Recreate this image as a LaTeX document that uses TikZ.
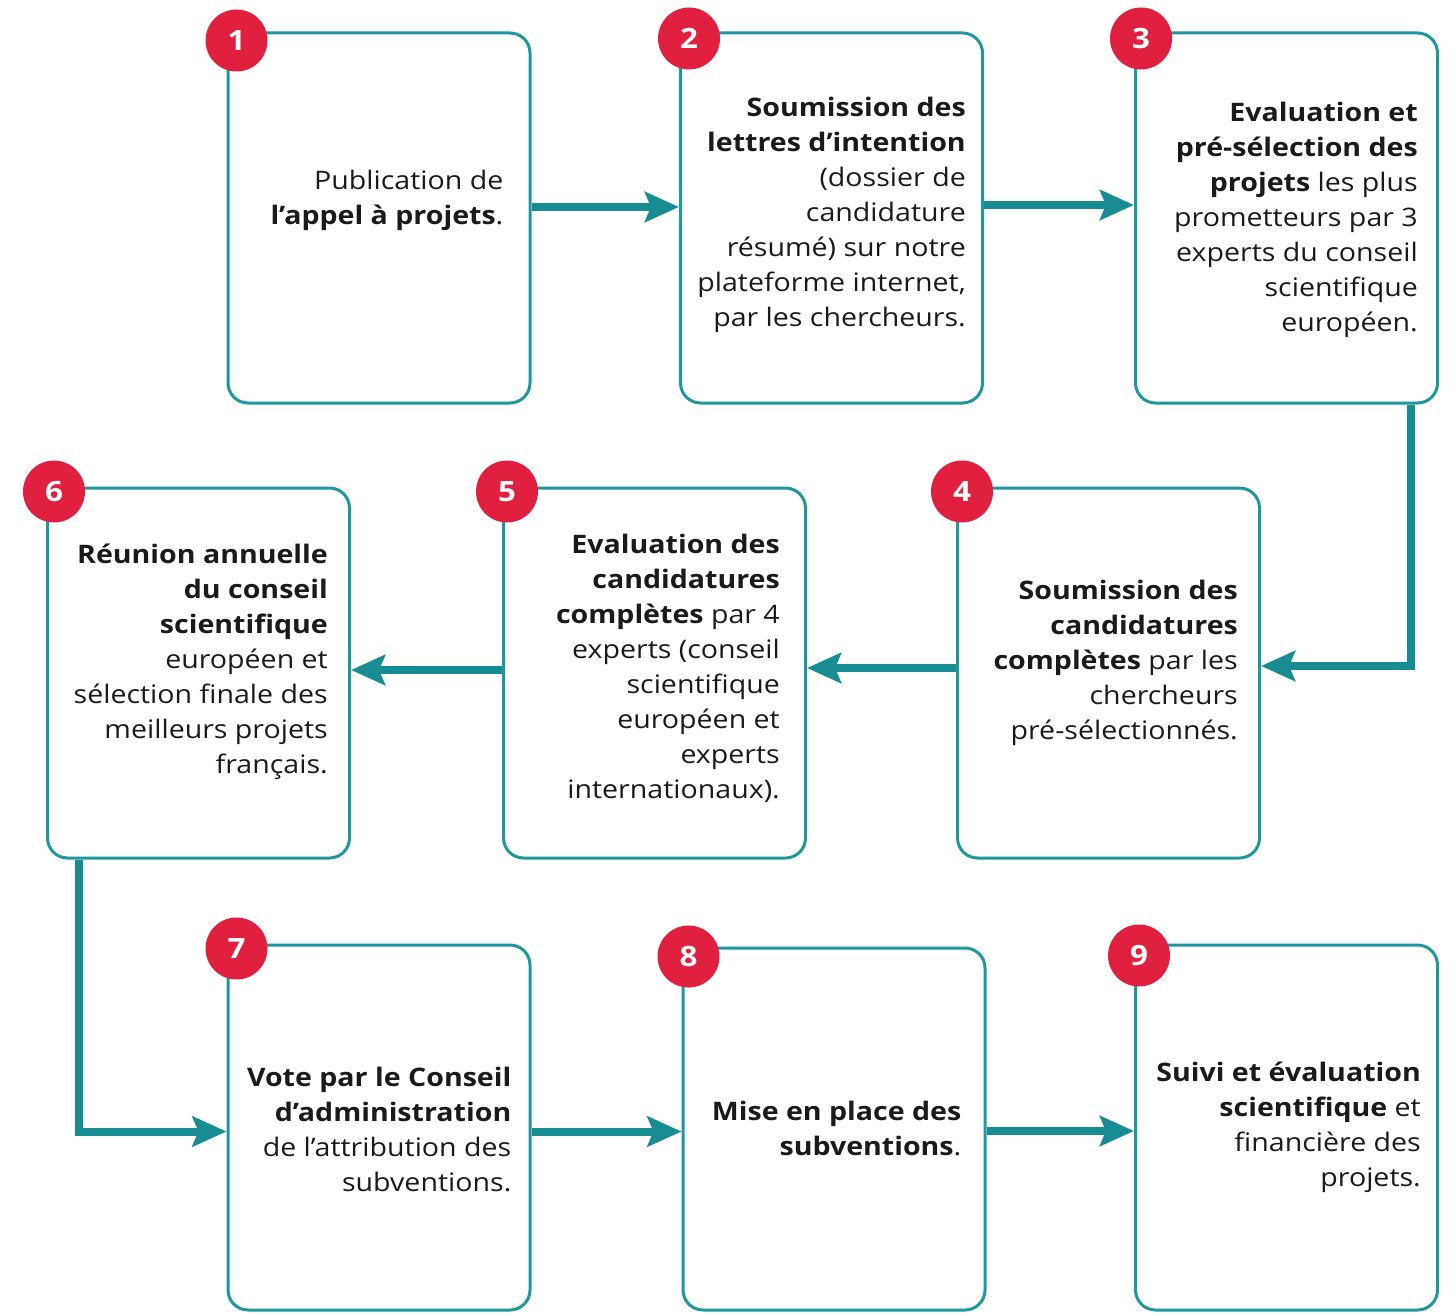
\documentclass[tikz,border=0pt]{standalone}
\usepackage{fontspec}
\setmainfont{Open Sans}[FakeStretch=1.12]
\usetikzlibrary{arrows.meta,calc}
\definecolor{tealline}{HTML}{1E979D}
\definecolor{tealarrow}{HTML}{178C93}
\definecolor{badgered}{HTML}{E0203E}
\definecolor{textgray}{HTML}{1A1A1A}
\begin{document}
\begin{tikzpicture}[x=1pt,y=-1pt,
  stepbox/.style={draw=tealline, line width=3pt, rounded corners=20pt, fill=white,
    minimum width=302pt, minimum height=370pt, inner sep=0pt},
  txt/.style={align=right, font=\fontsize{25.5}{35}\selectfont, text=textgray,
    inner sep=0pt, anchor=east},
  badge/.style={circle, fill=badgered, minimum size=62pt, inner sep=0pt,
    text=white, font=\fontsize{28}{28}\selectfont\bfseries},
  conn/.style={draw=tealarrow, line width=8pt,
    -{Stealth[length=34pt, width=30pt, inset=6pt]}}
]
\useasboundingbox (0,0) rectangle (1455,1313);
\fill[white] (0,0) rectangle (1455,1313);

% boxes
\node[stepbox] (b1) at (379,218) {};
\node[stepbox] (b2) at (831.5,218) {};
\node[stepbox] (b3) at (1286.5,218) {};
\node[stepbox] (b6) at (198.5,673) {};
\node[stepbox] (b5) at (654.5,673) {};
\node[stepbox] (b4) at (1108.5,673) {};
\node[stepbox, minimum height=365pt] (b7) at (379,1127.5) {};
\node[stepbox, minimum height=362pt] (b8) at (834,1129) {};
\node[stepbox, minimum height=365pt] (b9) at (1286.5,1127.5) {};

% texts
\node[txt] (t1) at ([xshift=-28pt,yshift=18pt]b1.east)
  {Publication de\\\textbf{l’appel à projets}.};
\node[txt] (t2) at ([xshift=-18pt,yshift=3pt]b2.east)
  {\textbf{Soumission des}\\\textbf{lettres d’intention}\\(dossier de\\candidature\\résumé) sur notre\\plateforme internet,\\par les chercheurs.};
\node[txt] (t3) at ([xshift=-21pt,yshift=-2pt]b3.east)
  {\textbf{Evaluation et}\\\textbf{pré-sélection des}\\\textbf{projets} les plus\\prometteurs par 3\\experts du conseil\\scientifique\\européen.};
\node[txt] (t4) at ([xshift=-23pt,yshift=10pt]b4.east)
  {\textbf{Soumission des}\\\textbf{candidatures}\\\textbf{complètes} par les\\chercheurs\\pré-sélectionnés.};
\node[txt] (t5) at ([xshift=-27pt,yshift=5pt]b5.east)
  {\textbf{Evaluation des}\\\textbf{candidatures}\\\textbf{complètes} par 4\\experts (conseil\\scientifique\\européen et\\experts\\internationaux).};
\node[txt] (t6) at ([xshift=-23pt,yshift=11pt]b6.east)
  {\textbf{Réunion annuelle}\\\textbf{du conseil}\\\textbf{scientifique}\\européen et\\sélection finale des\\meilleurs projets\\français.};
\node[txt] (t7) at ([xshift=-20pt,yshift=-2pt]b7.east)
  {\textbf{Vote par le Conseil}\\\textbf{d’administration}\\de l’attribution des\\subventions.};
\node[txt] (t8) at ([xshift=-25pt,yshift=1pt]b8.east)
  {\textbf{Mise en place des}\\\textbf{subventions}.};
\node[txt] (t9) at ([xshift=-18pt,yshift=0pt]b9.east)
  {\textbf{Suivi et évaluation}\\\textbf{scientifique} et\\financière des\\projets.};

% connectors
\draw[conn] ([yshift=11pt]b1.east) -- ([yshift=11pt]b1.east -| b2.west);
\draw[conn] ([yshift=13pt]b2.east) -- ([yshift=13pt]b2.east -| b3.west);
\draw[conn] ([xshift=-28pt]b3.south east) |- ([yshift=7pt]b4.east);
\draw[conn] ([yshift=5pt]b4.west) -- ([yshift=5pt]b4.west -| b5.east);
\draw[conn] ([yshift=3pt]b5.west) -- ([yshift=3pt]b5.west -| b6.east);
\draw[conn] ([xshift=33pt]b6.south west) |- ([yshift=-4pt]b7.west);
\draw[conn] ([yshift=-4pt]b7.east) -- ([yshift=-4pt]b7.east -| b8.west);
\draw[conn] ([yshift=-2pt]b8.east) -- ([yshift=-2pt]b8.east -| b9.west);

% badges
\node[badge] (n1) at ([xshift=10pt,yshift=-9pt]b1.north west) {1};
\node[badge] (n2) at ([xshift=10pt,yshift=-7pt]b2.north west) {2};
\node[badge] (n3) at ([xshift=7pt,yshift=-7pt]b3.north west) {3};
\node[badge] (n6) at ([xshift=8pt,yshift=-5pt]b6.north west) {6};
\node[badge] (n5) at ([xshift=5pt,yshift=-5pt]b5.north west) {5};
\node[badge] (n4) at ([xshift=6pt,yshift=-5pt]b4.north west) {4};
\node[badge] (n7) at ([xshift=10pt,yshift=-5pt]b7.north west) {7};
\node[badge] (n8) at ([xshift=7pt,yshift=-10pt]b8.north west) {8};
\node[badge] (n9) at ([xshift=5pt,yshift=-12pt]b9.north west) {9};
\end{tikzpicture}
\end{document}
